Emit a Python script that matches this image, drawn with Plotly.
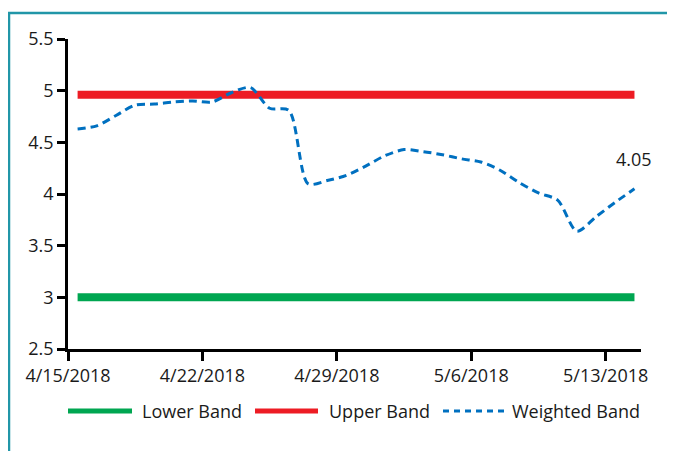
import plotly.graph_objects as go
import pandas as pd

# ---- data ----
dates = pd.date_range("2018-04-15 12:00", periods=30, freq="D")
lower_band = [3.0, 3.0, 3.0, 3.0, 3.0, 3.0, 3.0, 3.0, 3.0, 3.0,
              3.0, 3.0, 3.0, 3.0, 3.0, 3.0, 3.0, 3.0, 3.0, 3.0,
              3.0, 3.0, 3.0, 3.0, 3.0, 3.0, 3.0, 3.0, 3.0, 3.0]
upper_band = [4.96, 4.96, 4.96, 4.96, 4.96, 4.96, 4.96, 4.96, 4.96, 4.96,
              4.96, 4.96, 4.96, 4.96, 4.96, 4.96, 4.96, 4.96, 4.96, 4.96,
              4.96, 4.96, 4.96, 4.96, 4.96, 4.96, 4.96, 4.96, 4.96, 4.96]
weighted_band = [4.63, 4.66, 4.76, 4.86, 4.87, 4.89, 4.90, 4.89, 4.98, 5.03,
                 4.83, 4.81, 4.10, 4.13, 4.18, 4.27, 4.37, 4.43, 4.41, 4.38,
                 4.34, 4.31, 4.23, 4.11, 4.01, 3.94, 3.64, 3.78, 3.92, 4.05]
y_tick_vals = [2.5, 3, 3.5, 4, 4.5, 5, 5.5]
y_tick_text = ["2.5", "3", "3.5", "4", "4.5", "5", "5.5"]
series_names = ["Lower Band", "Upper Band", "Weighted Band"]

GREEN = "#00a651"
RED = "#ed1c24"
BLUE = "#0070c0"
FONT = "Open Sans"
TXT = "#1a1a1a"

fig = go.Figure()
fig.add_trace(go.Scatter(x=dates, y=lower_band, mode="lines", name=series_names[0],
                         line=dict(color=GREEN, width=8)))
fig.add_trace(go.Scatter(x=dates, y=upper_band, mode="lines", name=series_names[1],
                         line=dict(color=RED, width=8)))
fig.add_trace(go.Scatter(x=dates, y=weighted_band, mode="lines", name=series_names[2],
                         line=dict(color=BLUE, width=3, dash="8px,5px", shape="spline", smoothing=0.8)))

fig.add_annotation(x=dates[-1], y=weighted_band[-1], text=f"{weighted_band[-1]:.2f}",
                   showarrow=False, yshift=30, font=dict(size=18, color=TXT, family=FONT))

# page has an 8px body margin; figure is sized to fit the window exactly
OFF = 8
W, H = 675 - OFF, 451 - OFF
# plot area in page pixels: x 68..641, y 39..349
L, T = 68 - OFF, 39 - OFF
R, B = W - (641 - OFF), H - (349 - OFF)
pw, ph = W - L - R, H - T - B


def px(x):  # page pixel -> paper x
    return (x - OFF - L) / pw


def py(y):  # page pixel -> paper y
    return (H - B - (y - OFF)) / ph


shapes = [
    dict(type="rect", xref="paper", yref="paper", x0=px(9), x1=px(720), y0=py(520), y1=py(13),
         line=dict(color="#2196a8", width=2.5), fillcolor="rgba(0,0,0,0)", layer="below"),
]
# manual legend
leg_y = 411
legend_items = [
    (68, 132, 140, GREEN, "solid", 5),
    (255, 318, 327, RED, "solid", 5),
    (443, 508, 510, BLUE, "6px,5px", 3),
]
for (x0, x1, tx, col, dash, w), name in zip(legend_items, series_names):
    shapes.append(dict(type="line", xref="paper", yref="paper", x0=px(x0), x1=px(x1),
                       y0=py(leg_y), y1=py(leg_y), line=dict(color=col, width=w, dash=dash)))
    fig.add_annotation(xref="paper", yref="paper", x=px(tx), y=py(leg_y), text=name,
                       showarrow=False, xanchor="left", yanchor="middle",
                       font=dict(size=18, color=TXT, family=FONT))

fig.update_layout(
    width=W, height=H, autosize=False,
    margin=dict(l=L, r=R, t=T, b=B, pad=0),
    paper_bgcolor="white", plot_bgcolor="white",
    showlegend=False,
    shapes=shapes,
    font=dict(family=FONT, size=18, color=TXT),
)
fig.update_xaxes(
    type="date", range=["2018-04-15", "2018-05-14 20:10"],
    tick0="2018-04-15", dtick=7 * 86400000, tickformat="%-m/%-d/%Y",
    showline=True, linecolor="black", linewidth=2.5,
    ticks="outside", ticklen=9, tickwidth=2.5, tickcolor="black",
    showgrid=False, zeroline=False, tickfont=dict(size=18, color=TXT, family=FONT),
)
fig.update_yaxes(
    range=[2.5, 5.5], tickvals=y_tick_vals, ticktext=y_tick_text,
    showline=True, linecolor="black", linewidth=2.5,
    ticks="outside", ticklen=8, tickwidth=2.5, tickcolor="black",
    showgrid=False, zeroline=False, tickfont=dict(size=18, color=TXT, family=FONT),
)

fig.write_html("out.html")
